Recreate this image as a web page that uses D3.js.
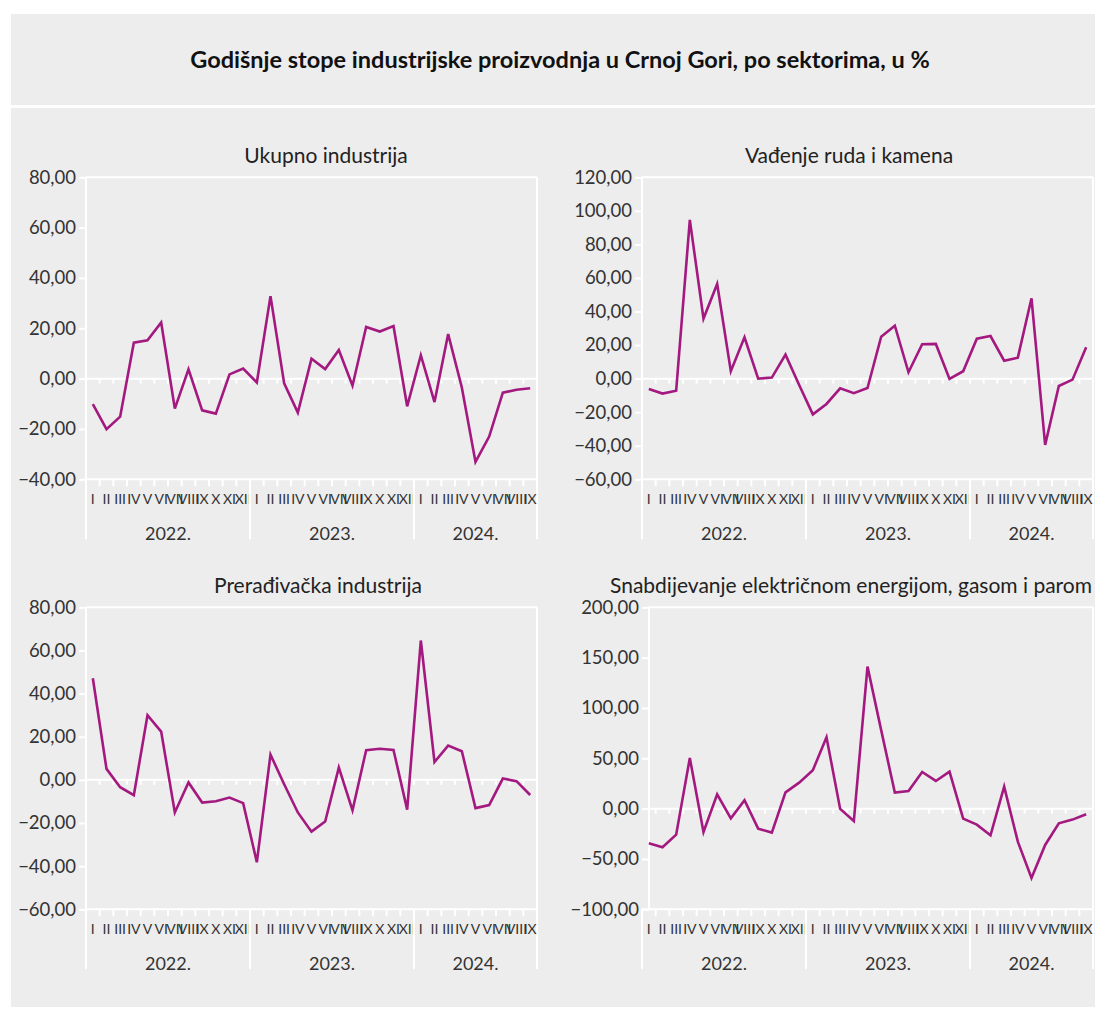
<!DOCTYPE html>
<html>
<head>
<meta charset="utf-8">
<script src="https://cdn.jsdelivr.net/npm/d3@7"></script>
<style>
  body { margin: 0; background: #fff; }
  text { font-family: Lato, "Open Sans", sans-serif; fill: #333; }
</style>
</head>
<body>
<div id="chart"></div>
<script>
// podaci: mjeseci 2022-I do 2024-IX
var months = ["I","II","III","IV","V","VI","VII","VIII","IX","X","XI","XII",
              "I","II","III","IV","V","VI","VII","VIII","IX","X","XI","XII",
              "I","II","III","IV","V","VI","VII","VIII","IX"];
var years = ["2022.", "2023.", "2024."];
var yearMonths = [12, 12, 9];

var ukupno = [-10.1, -20.1, -15.1, 14.3, 15.2, 22.3, -11.9, 3.7, -12.6, -13.9, 1.7, 4.0,
              -1.5, 32.8, -1.9, -13.5, 7.9, 3.8, 11.4, -2.8, 20.5, 18.7, 20.9, -11.0,
              9.3, -9.3, 17.7, -3.5, -33.1, -23.0, -5.6, -4.4, -3.8];
var vadjenje = [-6.2, -8.9, -7.2, 94.6, 35.8, 56.4, 4.4, 24.6, 0.0, 0.6, 14.3, -3.8,
                -21.3, -15.1, -5.8, -8.7, -5.6, 25.0, 31.6, 3.8, 20.5, 20.7, -0.2, 4.4,
                23.8, 25.4, 10.7, 12.5, 47.9, -39.5, -4.4, -0.6, 18.7];
var preradjivacka = [47.1, 5.1, -3.4, -7.1, 30.0, 22.4, -15.1, -1.2, -10.5, -9.9, -8.2, -10.8,
                     -38.2, 11.7, -2.0, -15.1, -24.0, -19.3, 5.7, -14.1, 13.8, 14.4, 13.9, -13.8,
                     64.6, 8.3, 15.9, 13.3, -13.1, -11.7, 0.6, -0.6, -7.0];
var snabdijevanje = [-34.4, -38.4, -25.8, 50.3, -23.2, 14.2, -9.6, 8.3, -19.9, -23.8, 16.2, 25.8,
                     38.1, 70.9, -0.3, -12.3, 141.1, 78.0, 15.9, 17.5, 36.4, 27.5, 36.8, -9.9,
                     -15.9, -26.5, 21.9, -32.8, -68.9, -36.1, -14.6, -10.9, -5.6];

var ticksUkupno = [-40, -20, 0, 20, 40, 60, 80];
var ticksVadjenje = [-60, -40, -20, 0, 20, 40, 60, 80, 100, 120];
var ticksPreradjivacka = [-60, -40, -20, 0, 20, 40, 60, 80];
var ticksSnabdijevanje = [-100, -50, 0, 50, 100, 150, 200];

var width = 1095;
var height = 1009;
var lineColor = "#a3197f";

var svg = d3.select("#chart")
    .append("svg")
    .attr("width", width)
    .attr("height", height);

// pozadina
svg.append("rect").attr("x", 11).attr("y", 14).attr("width", 1084).attr("height", 91).attr("fill", "#ededed");
svg.append("rect").attr("x", 11).attr("y", 108).attr("width", 1084).attr("height", 899).attr("fill", "#ededed");

svg.append("text")
    .attr("x", 560)
    .attr("y", 68)
    .attr("text-anchor", "middle")
    .attr("font-size", 23.5)
    .attr("font-weight", "bold")
    .style("fill", "#111")
    .text("Godišnje stope industrijske proizvodnja u Crnoj Gori, po sektorima, u %");

var fmt = function(d) { return d3.format(".2f")(d).replace(".", ","); };

var panels = [
    {title: "Ukupno industrija", values: ukupno, ticks: ticksUkupno,
     x0: 86, x1: 537, axisX: 86, top: 177.3, bottom: 479.3, titleX: 326},
    {title: "Vađenje ruda i kamena", values: vadjenje, ticks: ticksVadjenje,
     x0: 642, x1: 1093, axisX: 642, top: 177.3, bottom: 479.3, titleX: 849},
    {title: "Prerađivačka industrija", values: preradjivacka, ticks: ticksPreradjivacka,
     x0: 86, x1: 537, axisX: 86, top: 607.3, bottom: 909.3, titleX: 318},
    {title: "Snabdijevanje električnom energijom, gasom i parom", values: snabdijevanje, ticks: ticksSnabdijevanje,
     x0: 642, x1: 1093, axisX: 649, top: 607.3, bottom: 909.3, titleX: 851}
];

panels.forEach(drawPanel);

function drawPanel(p) {
    var g = svg.append("g");

    var x = d3.scaleBand()
        .domain(d3.range(months.length))
        .range([p.x0, p.x1]);

    var y = d3.scaleLinear()
        .domain(d3.extent(p.ticks))
        .range([p.bottom, p.top]);

    var white = function(sel) { return sel.attr("stroke", "#fff").attr("stroke-width", 2); };

    // naslov panela
    g.append("text")
        .attr("x", p.titleX)
        .attr("y", p.top - 14)
        .attr("text-anchor", "middle")
        .attr("font-size", 21)
        .style("fill", "#222")
        .text(p.title);

    // okvir: gore, desno, lijevo
    white(g.append("line").attr("x1", p.axisX).attr("x2", p.x1).attr("y1", p.top).attr("y2", p.top));
    white(g.append("line").attr("x1", p.x1).attr("x2", p.x1).attr("y1", p.top).attr("y2", p.bottom + 60));
    white(g.append("line").attr("x1", p.axisX).attr("x2", p.axisX).attr("y1", p.top).attr("y2", p.bottom));

    // y osa
    var yAxis = g.append("g")
        .attr("transform", "translate(" + p.axisX + ",0)")
        .call(d3.axisLeft(y).tickValues(p.ticks).tickSize(7).tickPadding(3).tickFormat(fmt));
    yAxis.select(".domain").remove();
    yAxis.selectAll(".tick line").attr("stroke", "#fff").attr("stroke-width", 2);
    yAxis.selectAll(".tick text")
        .attr("font-family", "Lato, 'Open Sans', sans-serif")
        .attr("font-size", 18.5)
        .style("fill", "#333");

    // nulta linija i donja osa
    var boundaries = d3.range(1, months.length).map(function(i) { return x(i); });
    white(g.append("line").attr("x1", p.axisX).attr("x2", p.x1).attr("y1", y(0)).attr("y2", y(0)));
    g.append("g").selectAll("line")
        .data(boundaries)
        .enter()
        .append("line")
        .attr("x1", (d) => d).attr("x2", (d) => d)
        .attr("y1", y(0)).attr("y2", y(0) + 5)
        .attr("stroke", "#fff").attr("stroke-width", 2);

    white(g.append("line").attr("x1", p.x0).attr("x2", p.x1).attr("y1", p.bottom).attr("y2", p.bottom));
    g.append("g").selectAll("line")
        .data(boundaries)
        .enter()
        .append("line")
        .attr("x1", (d) => d).attr("x2", (d) => d)
        .attr("y1", p.bottom).attr("y2", p.bottom + 7)
        .attr("stroke", "#fff").attr("stroke-width", 2);

    // mjeseci
    g.append("g").selectAll("text")
        .data(months)
        .enter()
        .append("text")
        .attr("x", (d, i) => x(i) + x.bandwidth() / 2)
        .attr("y", p.bottom + 25)
        .attr("text-anchor", "middle")
        .attr("font-size", 14)
        .text((d) => d);

    // godine i separatori
    var starts = [0];
    yearMonths.forEach(function(n, i) { starts.push(starts[i] + n); });
    g.append("g").selectAll("line")
        .data(starts.slice(0, years.length))
        .enter()
        .append("line")
        .attr("x1", (d) => x(d)).attr("x2", (d) => x(d))
        .attr("y1", p.bottom).attr("y2", p.bottom + 60)
        .attr("stroke", "#fff").attr("stroke-width", 2);

    g.append("g").selectAll("text")
        .data(years)
        .enter()
        .append("text")
        .attr("x", function(d, i) {
            var a = x(starts[i]);
            var b = starts[i + 1] < months.length ? x(starts[i + 1]) : p.x1;
            return (a + b) / 2;
        })
        .attr("y", p.bottom + 61)
        .attr("text-anchor", "middle")
        .attr("font-size", 18)
        .text((d) => d);

    // linija
    var line = d3.line()
        .x((d, i) => x(i) + x.bandwidth() / 2)
        .y((d) => y(d));

    g.append("path")
        .datum(p.values)
        .attr("d", line)
        .attr("fill", "none")
        .attr("stroke", lineColor)
        .attr("stroke-width", 2.6);
}
</script>
</body>
</html>
